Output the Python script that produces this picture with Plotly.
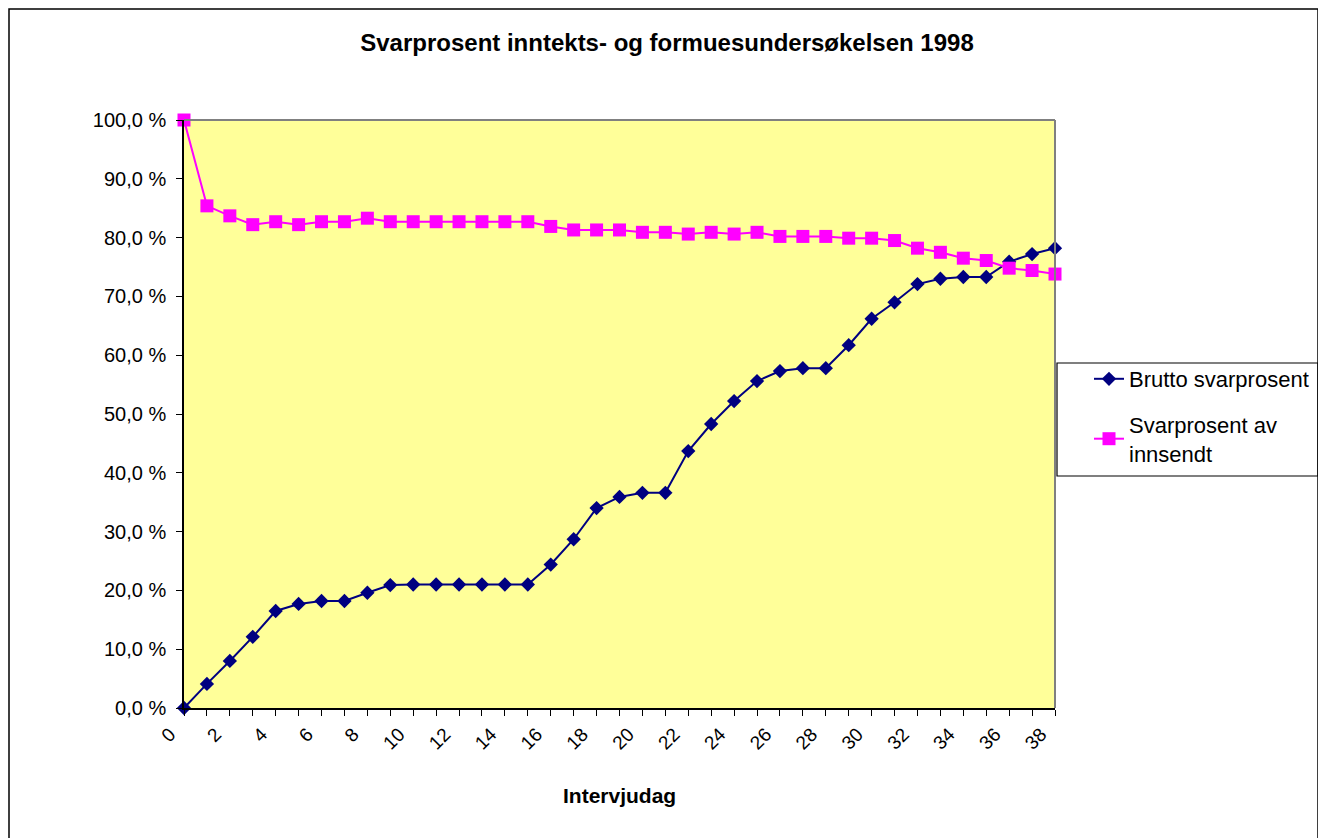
import plotly.graph_objects as go

days = list(range(39))
brutto = [0.0, 4.1, 8.0, 12.1, 16.5, 17.7, 18.2, 18.2, 19.6, 20.9,
          21.0, 21.0, 21.0, 21.0, 21.0, 21.0, 24.4, 28.7, 34.0, 35.9,
          36.6, 36.6, 43.7, 48.3, 52.2, 55.6, 57.3, 57.8, 57.8, 61.7,
          66.2, 69.0, 72.1, 73.0, 73.3, 73.3, 75.9, 77.2, 78.2]
innsendt = [100.0, 85.4, 83.7, 82.2, 82.7, 82.2, 82.7, 82.7, 83.3, 82.7,
            82.7, 82.7, 82.7, 82.7, 82.7, 82.7, 81.9, 81.3, 81.3, 81.3,
            80.9, 80.9, 80.6, 80.9, 80.6, 80.9, 80.2, 80.2, 80.2, 79.9,
            79.9, 79.5, 78.2, 77.5, 76.5, 76.1, 74.8, 74.4, 73.8]
tick_labels = [str(d) if d % 2 == 0 else "" for d in days]
y_ticks = list(range(0, 101, 10))
y_labels = [f"{v:.1f}".replace(".", ",") + " %" for v in y_ticks]

title_text = "Svarprosent inntekts- og formuesundersøkelsen 1998"
x_title = "Intervjudag"
names = ["Brutto svarprosent", "Svarprosent av<br>innsendt"]

FONT = "Liberation Sans, Arial, sans-serif"

fig = go.Figure()
fig.add_trace(go.Scatter(
    x=days, y=brutto, mode="lines+markers", name=names[0], legendgroup="a",
    line=dict(color="#000080", width=2),
    marker=dict(symbol="diamond", size=11, color="#000080"),
    cliponaxis=False))
fig.add_trace(go.Scatter(
    x=days, y=innsendt, mode="lines+markers", name=names[1], legendgroup="b",
    line=dict(color="#FF00FF", width=2),
    marker=dict(symbol="square", size=13, color="#FF00FF"),
    cliponaxis=False))

OFF = 8  # page body margin
W, H = 1326 - OFF, 838 - OFF
L, R, T, B = 184 - OFF, 1055 - OFF, 120 - OFF, 708 - OFF
pw, ph = R - L, B - T

def px(x):
    return (x - OFF - L) / pw

def py(y):
    return (B - (y - OFF)) / ph

fig.update_layout(
    width=W, height=H,
    margin=dict(l=L, r=W - R, t=T, b=H - B, autoexpand=False),
    paper_bgcolor="white",
    plot_bgcolor="#FFFF99",
    font=dict(family=FONT, size=19, color="black"),
    title=dict(text="<b>" + title_text + "</b>", x=0.5, xanchor="center",
               xref="container", y=1 - (43 - OFF) / H, yanchor="middle",
               yref="container", font=dict(size=24, family=FONT)),
    xaxis=dict(range=[0, 38], tickmode="array", tickvals=days, ticktext=tick_labels,
               tickangle=-45, ticks="outside", ticklen=6, tickwidth=1.2,
               tickcolor="black", ticklabelshift=-14,
               showline=True, linecolor="black", linewidth=1.5, showgrid=False,
               zeroline=False, tickfont=dict(size=19)),
    xaxis2=dict(range=[0, 38], overlaying="x", anchor="y", side="bottom",
                tickmode="array", tickvals=days, ticks="inside", ticklen=6,
                tickwidth=1.2, tickcolor="black", showticklabels=False,
                showline=False, showgrid=False, zeroline=False),
    yaxis=dict(range=[0, 100], tickmode="array", tickvals=y_ticks, ticktext=y_labels,
               ticks="outside", ticklen=6, ticklabelstandoff=6,
               tickwidth=1.2, tickcolor="black", showline=True, linecolor="black",
               linewidth=1.5, showgrid=False, zeroline=False, tickfont=dict(size=20)),
    legend=dict(x=px(1089), y=py(358), xanchor="left", yanchor="top",
                bgcolor="rgba(0,0,0,0)", borderwidth=0, tracegroupgap=14,
                font=dict(size=22, family=FONT)),
    showlegend=True,
)

shapes = [
    dict(type="line", xref="paper", yref="paper", x0=0, x1=1, y0=1, y1=1,
         line=dict(color="#808080", width=2)),
    dict(type="line", xref="paper", yref="paper", x0=1, x1=1, y0=0, y1=1,
         line=dict(color="#808080", width=2)),
    dict(type="rect", xref="paper", yref="paper", x0=px(1057), x1=px(1318),
         y0=py(476), y1=py(363), line=dict(color="black", width=1.2)),
    dict(type="rect", xref="paper", yref="paper", x0=px(OFF + 1), x1=px(1318),
         y0=py(850), y1=py(OFF + 1), line=dict(color="black", width=1.5)),
]
fig.update_layout(shapes=shapes)

fig.add_annotation(text="<b>" + x_title + "</b>", xref="paper", yref="paper",
                   x=0.5, y=py(795), xanchor="center", yanchor="middle",
                   showarrow=False, font=dict(size=21, family=FONT))

fig.write_html("out.html")
